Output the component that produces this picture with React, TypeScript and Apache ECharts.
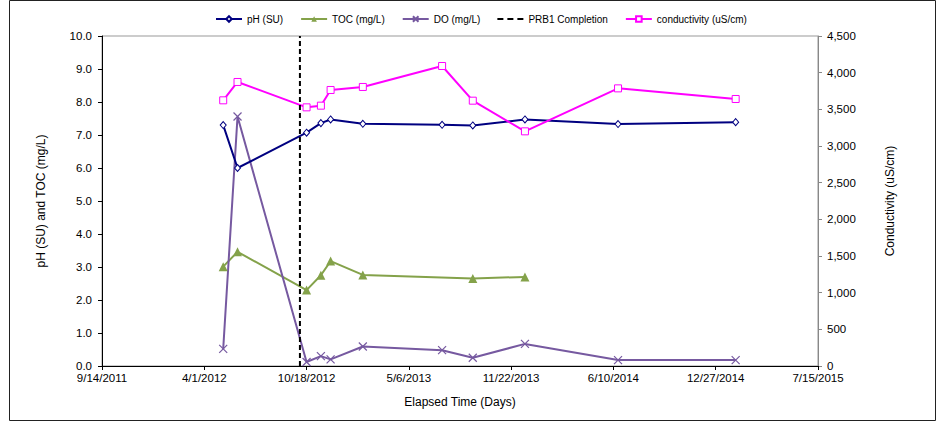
import React, { useEffect, useRef } from "react";
import * as echarts from "echarts";

const BASE_DATE = "9/14/2011";
const END_DATE = "7/15/2015";
const TICK_DAYS = 200;
const PRB1_DATE = "10/5/2012";

const sampleDates = [
  "5/8/2012", "6/5/2012", "10/18/2012", "11/15/2012", "12/4/2012", "2/5/2013",
  "7/10/2013", "9/8/2013", "12/19/2013", "6/19/2014", "2/4/2015",
];
const phValues = [7.30, 6.0, 7.07, 7.36, 7.47, 7.34, 7.31, 7.29, 7.47, 7.33, 7.39];
const tocValues = [3.01, 3.46, 2.30, 2.75, 3.18, 2.76, null, 2.65, 2.70, null, null];
const doValues = [0.52, 7.56, 0.12, 0.30, 0.20, 0.59, 0.48, 0.25, 0.67, 0.18, 0.18];
const condValues = [3623, 3873, 3527, 3550, 3764, 3805, 4091, 3618, 3200, 3786, 3641];

const DAY_MS = 86400000;
const toUTC = (s: string) => {
  const [m, d, y] = s.split("/").map(Number);
  return Date.UTC(y, m - 1, d);
};
const baseMs = toUTC(BASE_DATE);
const dayOf = (s: string) => Math.round((toUTC(s) - baseMs) / DAY_MS);
const fmtDay = (v: number) => {
  const dt = new Date(baseMs + v * DAY_MS);
  return `${dt.getUTCMonth() + 1}/${dt.getUTCDate()}/${dt.getUTCFullYear()}`;
};

const FONT = "'Liberation Sans', Arial, sans-serif";
const NAVY = "#000080";
const GREEN = "#84A24A";
const PURPLE = "#7659A0";
const MAGENTA = "#FF00FF";
const DASH_ICON = "path://M0 3h6v2H0zM10 3h6v2h-6zM20 3h6v2h-6z";

export default function App() {
  const ref = useRef<HTMLDivElement>(null);
  useEffect(() => {
    if (!ref.current) return;
    const chart = echarts.init(ref.current, undefined, { renderer: "svg" });
    const pair = (vals: (number | null)[]) =>
      sampleDates.map((d, i) => (vals[i] == null ? [dayOf(d), null] : [dayOf(d), vals[i]]));
    const prb = dayOf(PRB1_DATE);
    const xMax = dayOf(END_DATE);
    chart.setOption({
      animation: false,
      textStyle: { fontFamily: FONT },
      graphic: [
        {
          type: "rect",
          shape: { x: 9.5, y: 0.5, width: 926, height: 420 },
          style: { fill: "none", stroke: "#222", lineWidth: 1 },
          silent: true,
        },
      ],
      legend: {
        top: 9,
        left: 210,
        itemWidth: 26,
        itemHeight: 7,
        itemGap: 17,
        textStyle: { fontFamily: FONT, fontSize: 10, color: "#000" },
        data: [
          "pH (SU)",
          "TOC (mg/L)",
          "DO (mg/L)",
          { name: "PRB1 Completion", icon: DASH_ICON, itemStyle: { color: "#000" } },
          "conductivity (uS/cm)",
        ],
      },
      grid: {
        left: 102,
        right: 120,
        top: 36,
        bottom: 56,
        show: true,
        borderColor: "#999",
        borderWidth: 1,
        backgroundColor: "transparent",
      },
      xAxis: {
        type: "value",
        min: 0,
        max: xMax,
        interval: TICK_DAYS,
        name: "Elapsed Time (Days)",
        nameLocation: "middle",
        nameGap: 30,
        nameTextStyle: { fontFamily: FONT, fontSize: 12, color: "#000" },
        axisLine: { show: true, onZero: false, lineStyle: { color: "#000", width: 1 } },
        axisTick: { show: true, length: 4, lineStyle: { color: "#000" } },
        axisLabel: { formatter: fmtDay, fontFamily: FONT, fontSize: 11.5, color: "#000", margin: 6 },
        splitLine: { show: false },
      },
      yAxis: [
        {
          type: "value",
          min: 0,
          max: 10,
          interval: 1,
          name: "pH (SU) and TOC (mg/L)",
          nameLocation: "middle",
          nameGap: 55,
          nameTextStyle: { fontFamily: FONT, fontSize: 12, color: "#000" },
          axisLine: { show: true, lineStyle: { color: "#000", width: 1 } },
          axisTick: { show: true, length: 4, lineStyle: { color: "#000" } },
          axisLabel: {
            formatter: (v: number) => v.toFixed(1),
            fontFamily: FONT,
            fontSize: 11.5,
            color: "#000",
            margin: 10,
          },
          splitLine: { show: false },
        },
        {
          type: "value",
          min: 0,
          max: 4500,
          interval: 500,
          position: "right",
          name: "Conductivity (uS/cm)",
          nameLocation: "middle",
          nameGap: 66,
          nameRotate: 90,
          nameTextStyle: { fontFamily: FONT, fontSize: 12, color: "#000" },
          axisLine: { show: true, lineStyle: { color: "#888", width: 1 } },
          axisTick: { show: true, length: 4, lineStyle: { color: "#888" } },
          axisLabel: {
            formatter: (v: number) => v.toLocaleString("en-US"),
            fontFamily: FONT,
            fontSize: 11.5,
            color: "#000",
            margin: 9,
          },
          splitLine: { show: false },
        },
      ],
      series: [
        {
          name: "pH (SU)",
          type: "line",
          yAxisIndex: 0,
          data: pair(phValues),
          symbol: "diamond",
          symbolSize: [6, 7],
          lineStyle: { color: NAVY, width: 2 },
          itemStyle: { color: "#fff", borderColor: NAVY, borderWidth: 1 },
          z: 4,
        },
        {
          name: "TOC (mg/L)",
          type: "line",
          yAxisIndex: 0,
          data: pair(tocValues),
          connectNulls: true,
          symbol: "triangle",
          symbolSize: 9,
          lineStyle: { color: GREEN, width: 2 },
          itemStyle: { color: GREEN, borderColor: GREEN, borderWidth: 0 },
          z: 3,
        },
        {
          name: "DO (mg/L)",
          type: "line",
          yAxisIndex: 0,
          data: pair(doValues),
          symbol: "path://M0 0L10 10M10 0L0 10",
          symbolSize: 8,
          lineStyle: { color: PURPLE, width: 2 },
          itemStyle: { color: "transparent", borderColor: PURPLE, borderWidth: 1.2 },
          z: 3,
        },
        {
          name: "PRB1 Completion",
          type: "line",
          yAxisIndex: 0,
          data: [
            [prb, 0],
            [prb, 10],
          ],
          showSymbol: false,
          symbol: "none",
          lineStyle: { color: "#000", width: 2, type: [5, 3] },
          itemStyle: { color: "#000" },
          z: 5,
        },
        {
          name: "conductivity (uS/cm)",
          type: "line",
          yAxisIndex: 1,
          data: pair(condValues),
          symbol: "rect",
          symbolSize: 7,
          lineStyle: { color: MAGENTA, width: 2 },
          itemStyle: { color: "#fff", borderColor: MAGENTA, borderWidth: 1 },
          z: 4,
        },
      ],
    });
    return () => chart.dispose();
  }, []);
  return (
    <div
      ref={ref}
      style={{ position: "absolute", left: 0, top: 0, width: 938, height: 422, background: "#fff" }}
    />
  );
}
